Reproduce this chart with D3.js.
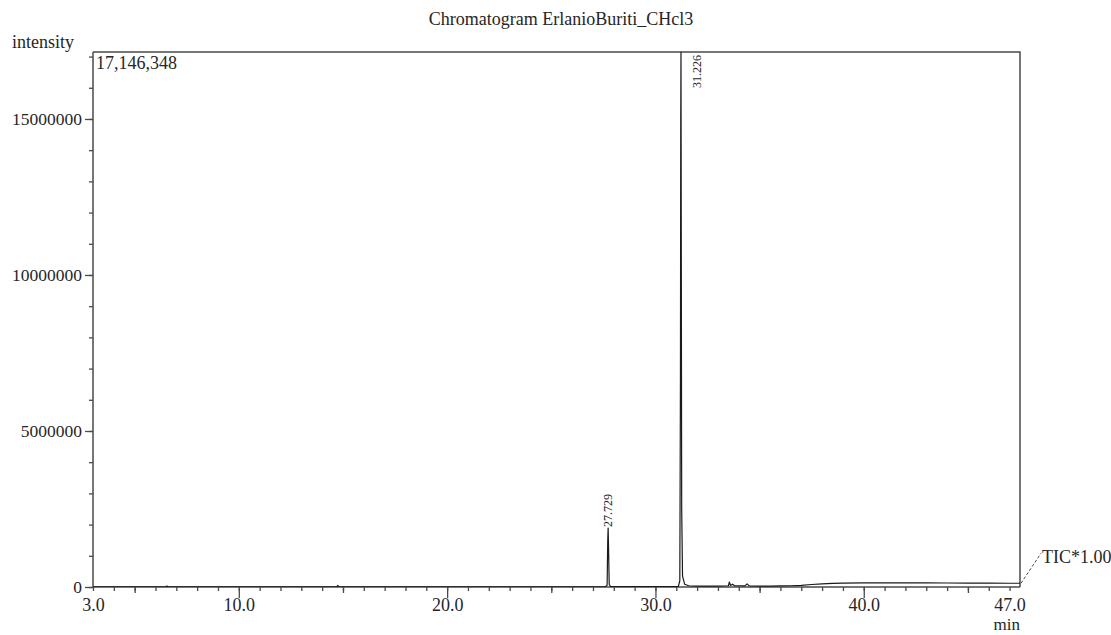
<!DOCTYPE html>
<html>
<head>
<meta charset="utf-8">
<script src="https://cdn.jsdelivr.net/npm/d3@7"></script>
<style>
  body { margin: 0; background: #fff; }
  svg { display: block; }
</style>
</head>
<body>
<script>
// Chromatogram data (retention time in min, intensity in counts)
const times = [3.0, 5.0, 6.5, 6.55, 6.6, 10.0, 14.7, 14.75, 14.8, 20.0, 25.0,
  27.6, 27.68, 27.71, 27.729, 27.75, 27.78, 27.85, 30.0, 31.1, 31.17, 31.2,
  31.215, 31.226, 31.24, 31.26, 31.3, 31.4, 31.6, 32.0, 32.5, 33.0, 33.5,
  33.55, 33.6, 33.7, 33.8, 34.3, 34.4, 34.5, 35.0, 35.5, 36.0, 36.5, 37.0,
  37.5, 38.0, 38.5, 39.0, 40.0, 41.0, 42.0, 43.0, 44.0, 45.0, 46.0, 47.0, 47.5];
const intensity = [5000, 5000, 5000, 30000, 5000, 6000, 6000, 50000, 6000, 7000, 8000,
  10000, 60000, 1500000, 1890000, 1200000, 80000, 15000, 12000, 20000, 200000, 6700000,
  15000000, 17146348, 11000000, 2500000, 350000, 90000, 40000, 30000, 25000, 30000, 40000,
  160000, 50000, 90000, 40000, 35000, 100000, 35000, 30000, 30000, 35000, 40000, 55000,
  80000, 100000, 115000, 125000, 130000, 130000, 132000, 130000, 128000, 125000, 122000, 120000, 120000];

const peakTimes = [27.729, 31.226];
const peakLabels = ['27.729', '31.226'];

const xTickLabels = [3.0, 10.0, 20.0, 30.0, 40.0, 47.0];
const yTickLabels = [0, 5000000, 10000000, 15000000];
const maxIntensity = 17146348;

const width = 1111, height = 635;
const margin = { top: 52, right: 91, bottom: 48, left: 93 };
const font = "'Liberation Serif', 'Times New Roman', serif";
const ink = '#262626';
const axisColor = '#4a4a4a';

const svg = d3.select('body').append('svg')
  .attr('width', width)
  .attr('height', height)
  .style('font-family', font);

const x = d3.scaleLinear().domain([3.0, 47.5]).range([margin.left, width - margin.right]);
const y = d3.scaleLinear().domain([0, maxIntensity]).range([height - margin.bottom, margin.top]);

// titulo
svg.append('text')
  .attr('x', 561).attr('y', 25)
  .attr('text-anchor', 'middle')
  .attr('font-size', 18)
  .attr('fill', ink)
  .text('Chromatogram ErlanioBuriti_CHcl3');

svg.append('text')
  .attr('x', 12).attr('y', 48)
  .attr('font-size', 18)
  .attr('fill', ink)
  .text('intensity');

// clip for the trace
svg.append('clipPath').attr('id', 'plot-clip')
  .append('rect')
  .attr('x', margin.left).attr('y', margin.top)
  .attr('width', x.range()[1] - margin.left)
  .attr('height', y.range()[0] - margin.top);

// frame (top + right)
svg.append('path')
  .attr('d', `M${margin.left},${margin.top}H${x.range()[1]}V${y.range()[0]}`)
  .attr('fill', 'none')
  .attr('stroke', axisColor)
  .attr('stroke-width', 1.5);

// x axis: minor, medium and major ticks
const xAxisG = svg.append('g').attr('transform', `translate(0,${y.range()[0]})`);
const minorX = d3.range(3, 48, 1);
const mediumX = minorX.filter(v => v % 5 === 0 && v % 10 !== 0);
const majorX = minorX.filter(v => v % 10 === 0);

function tickAxis(g, axis) {
  g.call(axis);
  g.select('.domain').remove();
  g.selectAll('.tick line').attr('stroke', axisColor).attr('stroke-width', 1.3);
  g.selectAll('.tick text').remove();
}

xAxisG.append('g').call(g => tickAxis(g, d3.axisBottom(x).tickValues(minorX).tickSize(4)));
xAxisG.append('g').call(g => tickAxis(g, d3.axisBottom(x).tickValues(mediumX).tickSize(6)));
xAxisG.append('g').call(g => tickAxis(g, d3.axisBottom(x).tickValues(majorX).tickSize(11)));

const xLabelsG = xAxisG.append('g').call(d3.axisBottom(x)
  .tickValues(xTickLabels)
  .tickSize(0)
  .tickPadding(11)
  .tickFormat(d3.format('.1f')));
xLabelsG.select('.domain').remove();
xLabelsG.selectAll('text')
  .attr('font-size', 18)
  .attr('font-family', font)
  .attr('fill', ink);

xAxisG.append('line')
  .attr('x1', margin.left).attr('x2', x.range()[1])
  .attr('stroke', axisColor).attr('stroke-width', 1.5);

svg.append('text')
  .attr('x', x.range()[1]).attr('y', 630)
  .attr('text-anchor', 'end')
  .attr('font-size', 17)
  .attr('fill', ink)
  .text('min');

// y axis
const yAxisG = svg.append('g').attr('transform', `translate(${margin.left},0)`);
const minorY = d3.range(0, 17000001, 1000000);
yAxisG.append('g').call(g => tickAxis(g, d3.axisLeft(y).tickValues(minorY).tickSize(4)));

const yLabelsG = yAxisG.append('g').call(d3.axisLeft(y)
  .tickValues(yTickLabels)
  .tickSize(8)
  .tickPadding(3)
  .tickFormat(d3.format('d')));
yLabelsG.select('.domain').remove();
yLabelsG.selectAll('.tick line').attr('stroke', axisColor).attr('stroke-width', 1.3);
yLabelsG.selectAll('text')
  .attr('font-size', 17.5)
  .attr('font-family', font)
  .attr('fill', ink);

yAxisG.append('line')
  .attr('y1', margin.top).attr('y2', y.range()[0])
  .attr('stroke', axisColor).attr('stroke-width', 1.5);

// trace
const data = times.map((t, i) => ({ t, v: intensity[i] }));
const line = d3.line().x(d => x(d.t)).y(d => y(d.v));

svg.append('path')
  .datum(data)
  .attr('clip-path', 'url(#plot-clip)')
  .attr('d', line)
  .attr('fill', 'none')
  .attr('stroke', '#1a1a1a')
  .attr('stroke-width', 1.2)
  .attr('stroke-linejoin', 'round');

// max intensity text
svg.append('text')
  .attr('x', margin.left + 3).attr('y', 69)
  .attr('font-size', 18)
  .attr('fill', ink)
  .text(d3.format(',')(maxIntensity));

// peak labels
peakTimes.forEach((t, i) => {
  const v = intensity[times.indexOf(t)];
  const clipped = y(v) < margin.top + 40;
  const px = clipped ? x(t) + 16 : x(t);
  const py = clipped ? margin.top + 36 : y(v) - 1;
  svg.append('text')
    .attr('transform', `translate(${px},${py}) rotate(-90)`)
    .attr('dy', '0.35em')
    .attr('font-size', 12)
    .attr('fill', ink)
    .text(peakLabels[i]);
});

// TIC label with dashed leader
const tx = x.range()[1], ty = y(intensity[intensity.length - 1]);
svg.append('line')
  .attr('x1', tx + 1).attr('y1', ty)
  .attr('x2', tx + 21).attr('y2', ty - 30)
  .attr('stroke', axisColor)
  .attr('stroke-width', 1)
  .attr('stroke-dasharray', '3,2');

svg.append('text')
  .attr('x', 1042).attr('y', 563)
  .attr('font-size', 18)
  .attr('fill', ink)
  .text('TIC*1.00');
</script>
</body>
</html>
